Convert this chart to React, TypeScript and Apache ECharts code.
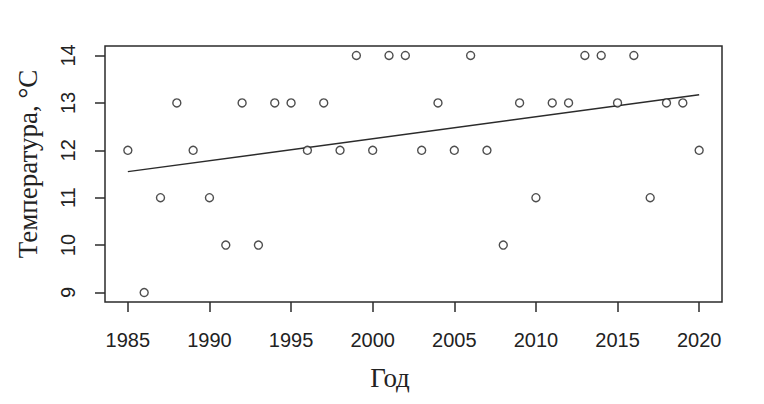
import React, { useEffect, useRef } from "react";
import * as echarts from "echarts";

const years = [
  1985, 1986, 1987, 1988, 1989, 1990, 1991, 1992, 1993, 1994, 1995, 1996,
  1997, 1998, 1999, 2000, 2001, 2002, 2003, 2004, 2005, 2006, 2007, 2008,
  2009, 2010, 2011, 2012, 2013, 2014, 2015, 2016, 2017, 2018, 2019, 2020,
];
const temperatures = [
  12, 9, 11, 13, 12, 11, 10, 13, 10, 13, 13, 12,
  13, 12, 14, 12, 14, 14, 12, 13, 12, 14, 12, 10,
  13, 11, 13, 13, 14, 14, 13, 14, 11, 13, 13, 12,
];
const trendYears = [1985, 2020];
const trendValues = [11.55, 13.17];
const xTicks = [1985, 1990, 1995, 2000, 2005, 2010, 2015, 2020];
const yTicks = [9, 10, 11, 12, 13, 14];
const xTitle = "Год";
const yTitle = "Температура, °C";

export default function App() {
  const ref = useRef<HTMLDivElement>(null);
  useEffect(() => {
    if (!ref.current) return;
    const chart = echarts.init(ref.current, undefined, { renderer: "svg" });
    const ink = "#2b2b2b";
    chart.setOption({
      animation: false,
      backgroundColor: "#ffffff",
      grid: {
        left: 105,
        top: 46,
        width: 617,
        height: 256,
        show: true,
        borderColor: ink,
        borderWidth: 1.5,
        backgroundColor: "transparent",
      },
      xAxis: {
        type: "value",
        min: 1983.6,
        max: 2021.4,
        axisLine: { show: false },
        splitLine: { show: false },
        axisTick: {
          show: true,
          length: 10,
          customValues: xTicks,
          lineStyle: { color: ink, width: 1.5 },
        },
        axisLabel: {
          customValues: xTicks,
          margin: 28,
          color: "#222",
          fontSize: 20,
          fontFamily: "Liberation Sans, Arial, sans-serif",
          formatter: (v: number) => String(v),
        },
      },
      yAxis: {
        type: "value",
        min: 8.8,
        max: 14.2,
        axisLine: { show: false },
        splitLine: { show: false },
        axisTick: {
          show: true,
          length: 10,
          customValues: yTicks,
          lineStyle: { color: ink, width: 1.5 },
        },
        axisLabel: {
          customValues: yTicks,
          rotate: 90,
          margin: 27,
          color: "#222",
          fontSize: 20,
          fontFamily: "Liberation Sans, Arial, sans-serif",
          formatter: (v: number) => String(v),
        },
      },
      graphic: [
        {
          type: "text",
          x: 390,
          y: 378,
          style: {
            text: xTitle,
            fill: "#222",
            font: "27px 'Liberation Serif', 'Times New Roman', serif",
            align: "center",
            verticalAlign: "middle",
          },
        },
        {
          type: "text",
          x: 28,
          y: 164,
          rotation: Math.PI / 2,
          style: {
            text: yTitle,
            fill: "#222",
            font: "27px 'Liberation Serif', 'Times New Roman', serif",
            align: "center",
            verticalAlign: "middle",
          },
        },
      ],
      series: [
        {
          type: "line",
          data: trendYears.map((y, i) => [y, trendValues[i]]),
          symbol: "none",
          lineStyle: { color: ink, width: 1.5 },
          z: 2,
        },
        {
          type: "scatter",
          data: years.map((y, i) => [y, temperatures[i]]),
          symbol: "circle",
          symbolSize: 8,
          itemStyle: { color: "#ffffff", borderColor: "#222", borderWidth: 1.4 },
          z: 3,
        },
      ],
    });
    return () => chart.dispose();
  }, []);
  return <div ref={ref} style={{ width: 764, height: 404, margin: -8 }} />;
}
